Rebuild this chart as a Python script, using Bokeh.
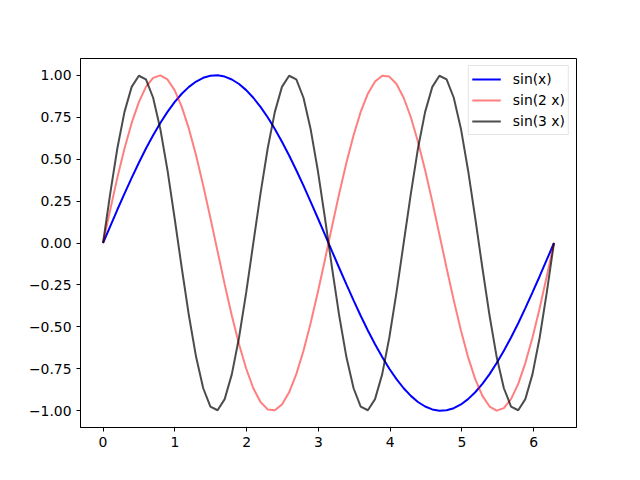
from bokeh.plotting import figure
from bokeh.models import Range1d, FixedTicker, ColumnDataSource, Legend, LegendItem
from bokeh.embed import file_html
from bokeh.resources import INLINE

x = [0.000, 0.100, 0.199, 0.299, 0.399, 0.499, 0.598, 0.698, 0.798, 0.898,
     0.997, 1.097, 1.197, 1.297, 1.396, 1.496, 1.596, 1.695, 1.795, 1.895,
     1.995, 2.094, 2.194, 2.294, 2.394, 2.493, 2.593, 2.693, 2.793, 2.892,
     2.992, 3.092, 3.191, 3.291, 3.391, 3.491, 3.590, 3.690, 3.790, 3.890,
     3.989, 4.089, 4.189, 4.289, 4.388, 4.488, 4.588, 4.687, 4.787, 4.887,
     4.987, 5.086, 5.186, 5.286, 5.386, 5.485, 5.585, 5.685, 5.785, 5.884,
     5.984, 6.084, 6.183, 6.283]

sin_x = [0.0, 0.0996, 0.1981, 0.2948, 0.3884, 0.4783, 0.5633, 0.6428, 0.7159, 0.7818,
         0.8400, 0.8899, 0.9309, 0.9626, 0.9848, 0.9972, 0.9997, 0.9922, 0.9749, 0.9479,
         0.9115, 0.8660, 0.8119, 0.7498, 0.6802, 0.6038, 0.5214, 0.4339, 0.3420, 0.2468,
         0.1490, 0.0498, -0.0498, -0.1490, -0.2468, -0.3420, -0.4339, -0.5214, -0.6038, -0.6802,
         -0.7498, -0.8119, -0.8660, -0.9115, -0.9479, -0.9749, -0.9922, -0.9997, -0.9972, -0.9848,
         -0.9626, -0.9309, -0.8899, -0.8400, -0.7818, -0.7159, -0.6428, -0.5633, -0.4783, -0.3884,
         -0.2948, -0.1981, -0.0996, 0.0]

sin_2x = [0.0, 0.1981, 0.3884, 0.5633, 0.7159, 0.8400, 0.9309, 0.9848, 0.9997, 0.9749,
          0.9115, 0.8119, 0.6802, 0.5214, 0.3420, 0.1490, -0.0498, -0.2468, -0.4339, -0.6038,
          -0.7498, -0.8660, -0.9479, -0.9922, -0.9972, -0.9626, -0.8899, -0.7818, -0.6428, -0.4783,
          -0.2948, -0.0996, 0.0996, 0.2948, 0.4783, 0.6428, 0.7818, 0.8899, 0.9626, 0.9972,
          0.9922, 0.9479, 0.8660, 0.7498, 0.6038, 0.4339, 0.2468, 0.0498, -0.1490, -0.3420,
          -0.5214, -0.6802, -0.8119, -0.9115, -0.9749, -0.9997, -0.9848, -0.9309, -0.8400, -0.7159,
          -0.5633, -0.3884, -0.1981, 0.0]

sin_3x = [0.0, 0.2948, 0.5633, 0.7818, 0.9309, 0.9972, 0.9749, 0.8660, 0.6802, 0.4339,
          0.1490, -0.1490, -0.4339, -0.6802, -0.8660, -0.9749, -0.9972, -0.9309, -0.7818, -0.5633,
          -0.2948, 0.0, 0.2948, 0.5633, 0.7818, 0.9309, 0.9972, 0.9749, 0.8660, 0.6802,
          0.4339, 0.1490, -0.1490, -0.4339, -0.6802, -0.8660, -0.9749, -0.9972, -0.9309, -0.7818,
          -0.5633, -0.2948, 0.0, 0.2948, 0.5633, 0.7818, 0.9309, 0.9972, 0.9749, 0.8660,
          0.6802, 0.4339, 0.1490, -0.1490, -0.4339, -0.6802, -0.8660, -0.9749, -0.9972, -0.9309,
          -0.7818, -0.5633, -0.2948, 0.0]

labels = ["sin(x)", "sin(2 x)", "sin(3 x)"]
x_ticks = [0, 1, 2, 3, 4, 5, 6]
y_ticks = [-1.0, -0.75, -0.5, -0.25, 0.0, 0.25, 0.5, 0.75, 1.0]

FONT = "DejaVu Sans"
FS = "13.9px"

p = figure(frame_width=496, frame_height=369,
           min_border_left=80, min_border_right=48, min_border_top=58, min_border_bottom=37,
           x_range=Range1d(-0.314, 6.597), y_range=Range1d(-1.1, 1.1),
           output_backend="svg", toolbar_location=None, tools="")

src = ColumnDataSource(dict(x=x, s1=sin_x, s2=sin_2x, s3=sin_3x))
r1 = p.line("x", "s1", source=src, line_color="#0000ff", line_width=2)
r2 = p.line("x", "s2", source=src, line_color="#ff0000", line_alpha=0.5, line_width=2)
r3 = p.line("x", "s3", source=src, line_color="#000000", line_alpha=0.7, line_width=2)

p.xgrid.visible = False
p.ygrid.visible = False
p.outline_line_color = "black"
p.outline_line_width = 1
p.outline_line_alpha = 1
p.background_fill_color = "white"
p.border_fill_color = "white"

p.xaxis.ticker = FixedTicker(ticks=x_ticks)
p.yaxis.ticker = FixedTicker(ticks=y_ticks)
p.xaxis.major_label_overrides = {t: str(t) for t in x_ticks}
p.yaxis.major_label_overrides = {t: ("\u2212%.2f" % abs(t) if t < 0 else "%.2f" % t) for t in y_ticks}
for ax in (p.xaxis, p.yaxis):
    ax.minor_tick_line_color = None
    ax.major_tick_out = 4
    ax.major_tick_in = 0
    ax.major_tick_line_color = "black"
    ax.axis_line_color = "black"
    ax.major_label_text_font = FONT
    ax.major_label_text_font_size = FS
    ax.major_label_text_color = "black"
    ax.major_label_standoff = 5

legend = Legend(items=[LegendItem(label=labels[0], renderers=[r1]),
                       LegendItem(label=labels[1], renderers=[r2]),
                       LegendItem(label=labels[2], renderers=[r3])],
                location="top_right")
legend.label_text_font = FONT
legend.label_text_font_size = FS
legend.label_text_color = "black"
legend.glyph_width = 29
legend.glyph_height = 20
legend.label_height = 20
legend.label_standoff = 12
legend.spacing = 1
legend.padding = 3
legend.margin = 7
legend.border_line_color = "#cccccc"
legend.border_line_width = 1
legend.background_fill_alpha = 0.8
p.add_layout(legend)

open("out.html", "w").write(file_html(p, INLINE))
